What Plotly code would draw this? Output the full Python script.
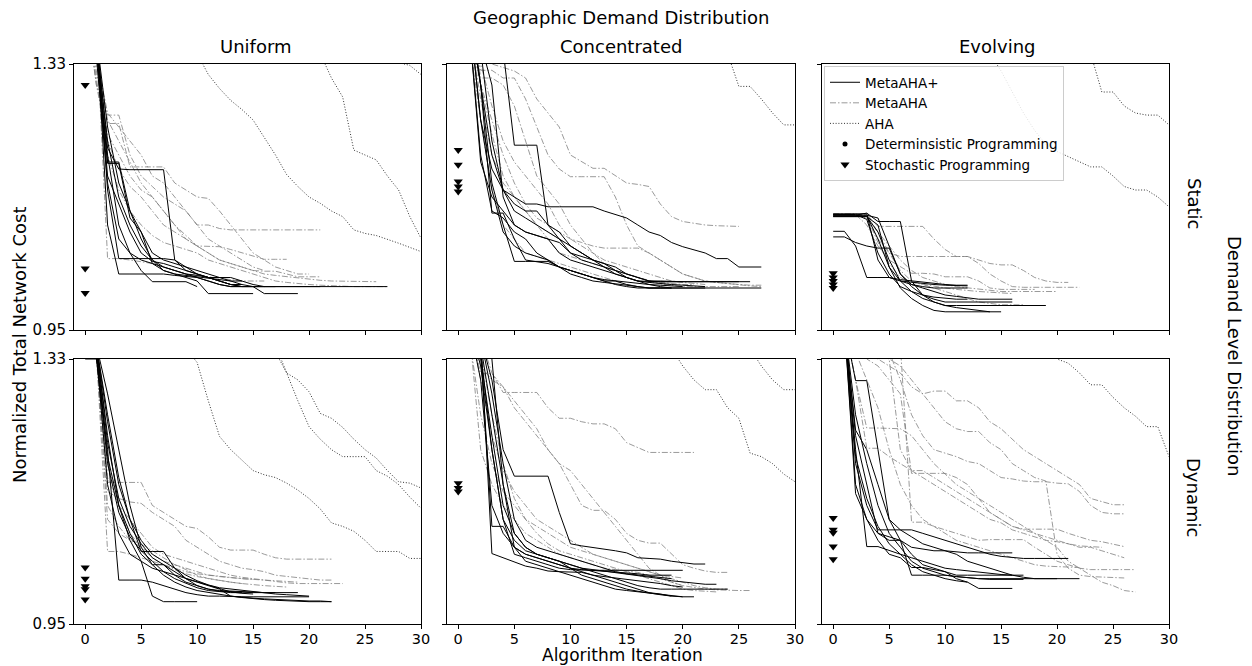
import plotly.graph_objects as go

# ---------------- DATA ----------------
# x positions are iterations 0,1,2,... ; AHA curves start at the given iteration
iter_ticks = [0, 5, 10, 15, 20, 25, 30]
cost_ticks = [0.95, 1.33]
col_titles = ["Uniform", "Concentrated", "Evolving"]
row_titles = ["Static", "Dynamic"]

# --- Uniform / Static ---
uni_sta_plus = [
    [1.42, 1.36, 1.19, 1.19, 1.12, 1.08, 1.05, 1.035, 1.03, 1.025, 1.02, 1.002, 1.002, 1.002, 1.002, 1.002],
    [1.42, 1.37, 1.21, 1.18, 1.179, 1.179, 1.179, 1.179, 1.05, 1.035, 1.03, 1.025, 1.02, 1.015, 1.012, 1.012, 1.012, 1.012],
    [1.42, 1.38, 1.15, 1.052, 1.052, 1.052, 1.052, 1.052, 1.05, 1.04, 1.03, 1.025, 1.02, 1.015, 1.012, 1.012, 1.012, 1.012, 1.012, 1.012, 1.012, 1.012, 1.012, 1.012, 1.012, 1.012, 1.012, 1.012],
    [1.42, 1.38, 1.10, 1.03, 1.03, 1.03, 1.03, 1.03, 1.028, 1.027, 1.025, 1.02, 1.015, 1.012, 1.012, 1.012, 1.002, 1.002, 1.002, 1.002],
    [1.42, 1.35, 1.20, 1.10, 1.06, 1.035, 1.019, 1.019, 1.019, 1.019, 1.012],
    [1.42, 1.36, 1.17, 1.13, 1.09, 1.06, 1.048, 1.045, 1.04, 1.035, 1.03, 1.025, 1.02, 1.015, 1.015],
    [1.42, 1.34, 1.16, 1.08, 1.06, 1.05, 1.045, 1.04, 1.035, 1.03, 1.028, 1.025, 1.025, 1.025, 1.02, 1.015, 1.012],
    [1.42, 1.36, 1.22, 1.14, 1.10, 1.07, 1.05, 1.04, 1.035, 1.03, 1.025, 1.02, 1.015, 1.012, 1.012],
    [1.42, 1.37, 1.24, 1.16, 1.12, 1.09, 1.06, 1.05, 1.045, 1.04, 1.035, 1.03, 1.025, 1.02, 1.015, 1.012, 1.012, 1.012, 1.012, 1.012, 1.012, 1.012],
    [1.42, 1.35, 1.188, 1.188, 1.11, 1.09, 1.045, 1.035, 1.03, 1.028, 1.026, 1.024, 1.022, 1.02, 1.02],
]
uni_sta_meta = [
    [1.42, 1.30, 1.257, 1.257, 1.20, 1.17, 1.155, 1.14, 1.13, 1.12, 1.10, 1.10, 1.095, 1.093, 1.093, 1.093, 1.093, 1.093, 1.093, 1.093, 1.093, 1.093],
    [1.42, 1.35, 1.245, 1.245, 1.183, 1.183, 1.183, 1.183, 1.16, 1.15, 1.14, 1.138, 1.12, 1.10, 1.08, 1.06, 1.05, 1.04, 1.035, 1.03, 1.03],
    [1.42, 1.38, 1.052, 1.052, 1.05, 1.048, 1.045, 1.04, 1.035, 1.03, 1.028, 1.026, 1.024, 1.022, 1.02, 1.02, 1.02],
    [1.42, 1.32, 1.23, 1.20, 1.17, 1.15, 1.14, 1.12, 1.10, 1.08, 1.07, 1.069, 1.069, 1.065, 1.06, 1.055, 1.051, 1.051, 1.051],
    [1.42, 1.30, 1.22, 1.18, 1.155, 1.14, 1.12, 1.10, 1.09, 1.08, 1.07, 1.06, 1.05, 1.045, 1.04, 1.035, 1.034, 1.034, 1.03, 1.026, 1.026, 1.026],
    [1.42, 1.33, 1.25, 1.22, 1.19, 1.16, 1.14, 1.12, 1.10, 1.085, 1.07, 1.06, 1.05, 1.045, 1.04, 1.035, 1.03, 1.028, 1.026, 1.024, 1.022, 1.021, 1.02, 1.02, 1.019, 1.019, 1.019],
    [1.42, 1.31, 1.20, 1.15, 1.12, 1.10, 1.085, 1.075, 1.07, 1.065, 1.06, 1.05, 1.045, 1.04, 1.035, 1.03, 1.025, 1.02, 1.018, 1.016, 1.015, 1.014, 1.013, 1.012, 1.012, 1.012, 1.012, 1.012],
    [1.42, 1.34, 1.26, 1.24, 1.22, 1.20, 1.17, 1.16, 1.14, 1.12, 1.10, 1.08, 1.07, 1.06, 1.05, 1.04, 1.035],
]
uni_sta_aha_start = [10, 21, 28]
uni_sta_aha = [
    [1.345, 1.315, 1.295, 1.278, 1.265, 1.25, 1.225, 1.20, 1.172, 1.155, 1.14, 1.131, 1.12, 1.112, 1.093, 1.088, 1.085, 1.08, 1.074, 1.068, 1.062],
    [1.345, 1.31, 1.283, 1.207, 1.20, 1.193, 1.17, 1.15, 1.112, 1.081],
    [1.332, 1.328, 1.315],
]
uni_sta_sp = [1.300, 1.038, 1.003]

# --- Concentrated / Static ---
con_sta_plus = [
    [1.45, 1.40, 1.25, 1.18, 1.15, 1.14, 1.13, 1.13, 1.126, 1.126, 1.126, 1.126, 1.126, 1.12, 1.115, 1.11, 1.10, 1.09, 1.085, 1.075, 1.069, 1.065, 1.06, 1.052, 1.052, 1.04, 1.04, 1.04],
    [1.45, 1.42, 1.40, 1.38, 1.35, 1.214, 1.214, 1.214, 1.10, 1.09, 1.07, 1.06, 1.05, 1.045, 1.04, 1.03, 1.025, 1.02, 1.019, 1.019, 1.019, 1.019, 1.019, 1.019, 1.019, 1.019, 1.019],
    [1.45, 1.38, 1.20, 1.12, 1.11, 1.09, 1.08, 1.06, 1.05, 1.04, 1.035, 1.03, 1.025, 1.02, 1.015, 1.012, 1.01, 1.01, 1.01, 1.01, 1.01, 1.01, 1.01, 1.01, 1.01, 1.01, 1.01, 1.01],
    [1.45, 1.40, 1.30, 1.117, 1.117, 1.08, 1.05, 1.048, 1.045, 1.04, 1.035, 1.03, 1.025, 1.02, 1.02, 1.015, 1.012, 1.01, 1.01, 1.01, 1.01, 1.01, 1.01],
    [1.45, 1.42, 1.30, 1.16, 1.10, 1.048, 1.048, 1.048, 1.048, 1.04, 1.035, 1.03, 1.025, 1.022, 1.02, 1.018, 1.016, 1.015, 1.014, 1.013, 1.012],
    [1.45, 1.41, 1.35, 1.22, 1.15, 1.12, 1.11, 1.10, 1.09, 1.08, 1.06, 1.05, 1.045, 1.04, 1.035, 1.03, 1.025, 1.02, 1.02, 1.019, 1.019, 1.019, 1.019, 1.019, 1.019, 1.019],
    [1.45, 1.40, 1.30, 1.20, 1.15, 1.13, 1.12, 1.12, 1.10, 1.08, 1.07, 1.06, 1.05, 1.04, 1.03, 1.025, 1.02, 1.015, 1.012, 1.01],
    [1.45, 1.38, 1.19, 1.14, 1.12, 1.10, 1.09, 1.085, 1.08, 1.075, 1.06, 1.055, 1.05, 1.045, 1.035, 1.025, 1.02, 1.019, 1.019, 1.019, 1.019],
    [1.45, 1.40, 1.25, 1.15, 1.09, 1.07, 1.06, 1.055, 1.05, 1.04, 1.03, 1.025, 1.02, 1.018, 1.016, 1.014, 1.012, 1.01, 1.01, 1.01],
    [1.45, 1.42, 1.36, 1.30, 1.14, 1.10, 1.09, 1.085, 1.08, 1.06, 1.05, 1.045, 1.04, 1.035, 1.03, 1.025, 1.02, 1.018, 1.016, 1.015, 1.014, 1.013, 1.012],
]
con_sta_meta = [
    [1.45, 1.40, 1.35, 1.33, 1.325, 1.32, 1.31, 1.28, 1.26, 1.24, 1.20, 1.19, 1.181, 1.181, 1.17, 1.16, 1.158, 1.155, 1.13, 1.112, 1.105, 1.102, 1.10, 1.099, 1.098, 1.098],
    [1.45, 1.40, 1.321, 1.321, 1.31, 1.31, 1.28, 1.24, 1.20, 1.18, 1.169, 1.169, 1.169, 1.169, 1.14, 1.10, 1.07, 1.06, 1.05, 1.04, 1.03, 1.025, 1.02, 1.018, 1.016, 1.015, 1.014, 1.014],
    [1.45, 1.38, 1.30, 1.25, 1.20, 1.16, 1.13, 1.11, 1.10, 1.09, 1.08, 1.075, 1.07, 1.067, 1.067, 1.067, 1.067, 1.06, 1.05, 1.04, 1.03, 1.025, 1.02, 1.018, 1.016, 1.014, 1.013, 1.012],
    [1.45, 1.36, 1.25, 1.15, 1.10, 1.08, 1.06, 1.055, 1.05, 1.045, 1.04, 1.035, 1.03, 1.025, 1.02, 1.015, 1.012],
    [1.45, 1.42, 1.31, 1.31, 1.30, 1.27, 1.22, 1.17, 1.15, 1.13, 1.10, 1.08, 1.06, 1.045, 1.035, 1.025, 1.02, 1.018, 1.016, 1.015],
    [1.45, 1.38, 1.28, 1.20, 1.16, 1.14, 1.12, 1.10, 1.08, 1.06, 1.055, 1.05, 1.045, 1.04, 1.035, 1.03, 1.025, 1.02, 1.018, 1.016, 1.015, 1.015],
    [1.45, 1.40, 1.33, 1.27, 1.22, 1.19, 1.17, 1.15, 1.13, 1.10, 1.08, 1.07, 1.06, 1.05, 1.045, 1.04, 1.035, 1.03, 1.025, 1.02, 1.018, 1.016, 1.015],
    [1.45, 1.39, 1.30, 1.23, 1.17, 1.14, 1.12, 1.10, 1.09, 1.08, 1.07, 1.06, 1.05, 1.04, 1.035, 1.03, 1.025, 1.02, 1.016, 1.014, 1.012, 1.012, 1.012, 1.012, 1.012, 1.012],
]
con_sta_aha_start = [24]
con_sta_aha = [
    [1.345, 1.298, 1.298, 1.28, 1.26, 1.243, 1.243],
]
con_sta_sp = [1.207, 1.186, 1.162, 1.155, 1.148]

# --- Evolving / Static ---
evo_sta_plus = [
    [1.116, 1.116, 1.116, 1.116, 1.05, 1.025, 1.022, 1.020, 1.018, 1.016, 1.015, 1.014, 1.014],
    [1.112, 1.112, 1.112, 1.112, 1.10, 1.04, 1.02, 1.015, 1.012, 1.01, 1.01, 1.01, 1.01],
    [1.091, 1.091, 1.07, 1.025, 1.025, 1.025, 1.02, 1.018, 1.016, 1.015, 1.014, 1.013, 1.013],
    [1.083, 1.083, 1.075, 1.07, 1.067, 1.067, 1.03, 1.015, 1.01, 1.005, 1.0, 0.998, 0.996, 0.994, 0.994, 0.994, 0.994],
    [1.114, 1.114, 1.114, 1.117, 1.105, 1.105, 1.105, 1.02, 1.0, 0.99, 0.985, 0.985, 0.985, 0.985, 0.985, 0.985, 0.985, 0.985, 0.985, 0.985],
    [1.113, 1.113, 1.113, 1.113, 1.08, 1.04, 1.01, 0.995, 0.985, 0.978, 0.976, 0.976, 0.976, 0.976, 0.976, 0.976],
    [1.115, 1.115, 1.115, 1.108, 1.06, 1.03, 1.012, 1.005, 1.0, 0.997, 0.995, 0.994, 0.994],
    [1.112, 1.112, 1.112, 1.112, 1.09, 1.05, 1.02, 1.005, 0.995, 0.99, 0.985, 0.982, 0.98, 0.978, 0.976],
    [1.114, 1.114, 1.114, 1.114, 1.11, 1.07, 1.03, 1.012, 1.0, 0.994, 0.99, 0.99, 0.99, 0.99, 0.99, 0.99, 0.99],
]
evo_sta_meta = [
    [1.115, 1.115, 1.115, 1.115, 1.098, 1.098, 1.098, 1.098, 1.098, 1.08, 1.065, 1.055, 1.055, 1.05, 1.045, 1.043, 1.043, 1.035, 1.025, 1.02, 1.018, 1.018],
    [1.115, 1.115, 1.115, 1.11, 1.08, 1.06, 1.055, 1.055, 1.055, 1.055, 1.055, 1.055, 1.055, 1.045, 1.03, 1.02, 1.012, 1.011, 1.011, 1.011, 1.011, 1.011, 1.011],
    [1.115, 1.115, 1.115, 1.10, 1.07, 1.05, 1.04, 1.031, 1.031, 1.03, 1.026, 1.026, 1.026, 1.02, 1.01, 1.008, 1.008, 1.008, 1.008],
    [1.115, 1.115, 1.115, 1.113, 1.09, 1.06, 1.035, 1.02, 1.015, 1.01, 1.005, 1.0, 0.995, 0.99, 0.988, 0.986, 0.986, 0.986],
    [1.115, 1.115, 1.115, 1.112, 1.075, 1.045, 1.025, 1.018, 1.015, 1.012, 1.01, 1.008, 1.006, 1.005, 1.004, 1.003, 1.002],
    [1.116, 1.116, 1.116, 1.11, 1.09, 1.07, 1.05, 1.035, 1.025, 1.02, 1.015, 1.012, 1.01, 1.008, 1.006, 1.005, 1.005, 1.005, 1.005, 1.005, 1.005],
]
evo_sta_aha_start = [14, 23]
evo_sta_aha = [
    [1.345, 1.32, 1.29, 1.26, 1.235, 1.215, 1.205, 1.198, 1.19, 1.183, 1.183, 1.17, 1.155, 1.15, 1.15, 1.14, 1.126],
    [1.345, 1.29, 1.29, 1.27, 1.26, 1.257, 1.257, 1.243],
]
evo_sta_sp = [1.031, 1.025, 1.020, 1.015, 1.010]

# --- Uniform / Dynamic ---
uni_dyn_plus = [
    [1.33, 1.33, 1.20, 1.013, 1.013, 1.013, 1.01, 1.005, 1.0, 0.995, 0.992, 0.99, 0.99, 0.989, 0.989, 0.989, 0.989, 0.989, 0.989, 0.989, 0.989],
    [1.35, 1.34, 1.15, 1.08, 1.05, 1.04, 0.99, 0.982, 0.982, 0.982, 0.982],
    [1.36, 1.35, 1.22, 1.12, 1.08, 1.05, 1.035, 1.02, 1.01, 1.003, 0.998, 0.995, 0.993, 0.99, 0.988, 0.986, 0.985, 0.984, 0.983, 0.982, 0.982, 0.982, 0.982],
    [1.36, 1.35, 1.25, 1.16, 1.10, 1.054, 1.054, 1.054, 1.03, 1.015, 1.005, 1.0, 0.997, 0.996, 0.995, 0.995, 0.995, 0.995, 0.995, 0.995],
    [1.36, 1.35, 1.28, 1.20, 1.12, 1.06, 1.035, 1.035, 1.02, 1.01, 1.005, 1.0, 0.998, 0.997, 0.996, 0.995, 0.995, 0.995],
    [1.36, 1.34, 1.18, 1.11, 1.075, 1.055, 1.04, 1.025, 1.015, 1.008, 1.002, 0.998, 0.996, 0.995, 0.995],
    [1.36, 1.35, 1.21, 1.13, 1.09, 1.065, 1.045, 1.035, 1.025, 1.015, 1.01, 1.005, 1.0, 0.99, 0.988, 0.987, 0.986, 0.985, 0.984, 0.983, 0.983, 0.983, 0.982],
    [1.36, 1.35, 1.24, 1.15, 1.10, 1.07, 1.05, 1.04, 1.03, 1.02, 1.012, 1.006, 1.002, 1.0, 0.998, 0.996, 0.994, 0.993, 0.992, 0.991, 0.99],
    [1.36, 1.35, 1.19, 1.12, 1.07, 1.04, 1.03, 1.025, 1.02, 1.015, 1.01, 1.005, 1.0, 0.996, 0.994, 0.993],
]
uni_dyn_meta = [
    [1.36, 1.35, 1.153, 1.153, 1.153, 1.153, 1.12, 1.11, 1.10, 1.09, 1.087, 1.075, 1.06, 1.056, 1.056, 1.056, 1.05, 1.045, 1.043, 1.043, 1.043, 1.043, 1.043],
    [1.36, 1.34, 1.054, 1.054, 1.05, 1.045, 1.04, 1.035, 1.03, 1.025, 1.022, 1.02, 1.018, 1.016, 1.015, 1.014],
    [1.36, 1.35, 1.14, 1.13, 1.125, 1.123, 1.11, 1.10, 1.09, 1.07, 1.06, 1.05, 1.04, 1.035, 1.03, 1.028, 1.025, 1.02, 1.018, 1.016, 1.014, 1.013, 1.013],
    [1.36, 1.33, 1.16, 1.12, 1.10, 1.08, 1.06, 1.05, 1.045, 1.04, 1.035, 1.03, 1.025, 1.02, 1.017, 1.015, 1.012, 1.01, 1.009, 1.008, 1.008, 1.008, 1.008, 1.008],
    [1.36, 1.34, 1.12, 1.09, 1.07, 1.06, 1.05, 1.04, 1.035, 1.03, 1.025, 1.02, 1.018, 1.016, 1.015, 1.014, 1.013, 1.012, 1.011, 1.01],
    [1.36, 1.35, 1.18, 1.12, 1.08, 1.06, 1.045, 1.035, 1.028, 1.022, 1.018, 1.015, 1.012, 1.01, 1.008, 1.006, 1.005, 1.004, 1.003],
    [1.36, 1.34, 1.10, 1.08, 1.07, 1.065, 1.055, 1.045, 1.035, 1.028, 1.02, 1.015, 1.012, 1.01, 1.008],
]
uni_dyn_aha_start = [9, 17, 17]
uni_dyn_aha = [
    [1.345, 1.325, 1.27, 1.219, 1.20, 1.185, 1.17, 1.164, 1.16, 1.152, 1.142, 1.13, 1.115, 1.095, 1.09, 1.083, 1.07, 1.054, 1.054, 1.054, 1.044, 1.044],
    [1.35, 1.31, 1.30, 1.283, 1.252, 1.245, 1.232, 1.215, 1.20, 1.188, 1.17, 1.154, 1.152, 1.145],
    [1.34, 1.31, 1.27, 1.233, 1.215, 1.20, 1.19, 1.19, 1.19, 1.17, 1.162, 1.15, 1.132, 1.116],
]
uni_dyn_sp = [1.031, 1.015, 1.004, 1.000, 0.985]

# --- Concentrated / Dynamic ---
con_dyn_plus = [
    [1.40, 1.38, 1.36, 1.051, 1.045, 1.04, 1.033, 1.03, 1.026, 1.025, 1.024, 1.024, 1.02, 1.018, 1.016, 1.015, 1.012, 1.01, 1.008, 1.005, 1.003],
    [1.40, 1.38, 1.34, 1.09, 1.09, 1.06, 1.04, 1.035, 1.03, 1.025, 1.02, 1.015, 1.01, 1.005, 1.0, 0.998, 0.996, 0.994, 0.992, 0.99, 0.989, 0.989],
    [1.40, 1.38, 1.36, 1.30, 1.20, 1.162, 1.162, 1.162, 1.162, 1.11, 1.065, 1.062, 1.06, 1.058, 1.055, 1.052, 1.045, 1.044, 1.043, 1.04, 1.038, 1.036, 1.036],
    [1.40, 1.38, 1.30, 1.12, 1.08, 1.06, 1.05, 1.045, 1.04, 1.035, 1.03, 1.028, 1.027, 1.026, 1.025, 1.024, 1.022, 1.02, 1.02, 1.02],
    [1.40, 1.38, 1.35, 1.25, 1.15, 1.08, 1.06, 1.05, 1.045, 1.04, 1.035, 1.03, 1.025, 1.02, 1.015, 1.01, 1.005, 1.002, 1.0, 1.0, 1.0, 1.0, 1.0, 1.0, 1.0],
    [1.40, 1.38, 1.32, 1.20, 1.10, 1.07, 1.055, 1.05, 1.045, 1.04, 1.035, 1.03, 1.028, 1.026, 1.024, 1.022, 1.02, 1.018, 1.015, 1.012, 1.01, 1.008, 1.007, 1.007],
    [1.40, 1.38, 1.33, 1.22, 1.12, 1.08, 1.06, 1.05, 1.045, 1.04, 1.03, 1.02, 1.015, 1.01, 1.005, 1.0, 0.997, 0.994, 0.992, 0.99, 0.989],
    [1.40, 1.38, 1.34, 1.20, 1.10, 1.05, 1.045, 1.04, 1.035, 1.03, 1.028, 1.027, 1.027, 1.027, 1.027, 1.027, 1.027, 1.027, 1.027, 1.027, 1.027],
    [1.40, 1.38, 1.36, 1.28, 1.18, 1.10, 1.07, 1.06, 1.055, 1.05, 1.045, 1.04, 1.035, 1.03, 1.025, 1.022, 1.02, 1.018, 1.016, 1.015],
    [1.40, 1.38, 1.35, 1.33, 1.15, 1.06, 1.05, 1.045, 1.04, 1.035, 1.03, 1.025, 1.02, 1.015, 1.01, 1.005, 1.0, 0.995, 0.993, 0.99],
]
con_dyn_meta = [
    [1.40, 1.38, 1.36, 1.31, 1.282, 1.282, 1.282, 1.282, 1.26, 1.245, 1.245, 1.24, 1.237, 1.237, 1.23, 1.21, 1.203, 1.196, 1.196, 1.196, 1.196, 1.196],
    [1.40, 1.38, 1.309, 1.309, 1.29, 1.27, 1.25, 1.23, 1.20, 1.18, 1.15, 1.12, 1.113, 1.113, 1.10, 1.08, 1.07, 1.066, 1.066, 1.05, 1.035, 1.03, 1.026, 1.024, 1.024],
    [1.40, 1.38, 1.32, 1.30, 1.29, 1.26, 1.24, 1.22, 1.20, 1.18, 1.17, 1.15, 1.13, 1.11, 1.09, 1.07, 1.05, 1.03, 1.02, 1.01, 1.005, 1.002, 1.0, 0.999, 0.998, 0.998, 0.998],
    [1.40, 1.36, 1.25, 1.18, 1.14, 1.12, 1.10, 1.09, 1.08, 1.07, 1.06, 1.055, 1.05, 1.045, 1.04, 1.035, 1.03, 1.025, 1.02, 1.015, 1.01, 1.005, 1.002, 1.0, 1.0],
    [1.40, 1.37, 1.20, 1.15, 1.12, 1.10, 1.08, 1.07, 1.06, 1.05, 1.045, 1.04, 1.035, 1.03, 1.028, 1.026, 1.024, 1.02, 1.015, 1.01, 1.005],
    [1.40, 1.38, 1.30, 1.22, 1.17, 1.14, 1.12, 1.10, 1.09, 1.08, 1.07, 1.06, 1.05, 1.045, 1.04, 1.035, 1.03, 1.025, 1.02, 1.018, 1.016],
    [1.40, 1.38, 1.34, 1.25, 1.18, 1.13, 1.10, 1.08, 1.065, 1.055, 1.05, 1.045, 1.04, 1.035, 1.03, 1.025, 1.02, 1.015, 1.01, 1.005, 1.0, 0.998, 0.997, 0.996],
]
con_dyn_aha_start = [19, 26]
con_dyn_aha = [
    [1.345, 1.32, 1.30, 1.286, 1.286, 1.26, 1.245, 1.195, 1.19, 1.18, 1.165, 1.154],
    [1.345, 1.32, 1.30, 1.286, 1.286],
]
con_dyn_sp = [1.152, 1.145, 1.140]

# --- Evolving / Dynamic ---
evo_dyn_plus = [
    [1.40, 1.38, 1.137, 1.10, 1.08, 1.075, 1.07, 1.06, 1.058, 1.055, 1.055, 1.053, 1.052, 1.052, 1.052, 1.052, 1.052],
    [1.40, 1.38, 1.299, 1.299, 1.20, 1.10, 1.085, 1.085, 1.08, 1.075, 1.07, 1.065, 1.06, 1.055, 1.05, 1.047, 1.045, 1.044, 1.044, 1.044, 1.044, 1.044],
    [1.40, 1.38, 1.20, 1.061, 1.061, 1.055, 1.05, 1.045, 1.04, 1.035, 1.03, 1.028, 1.026, 1.024, 1.022, 1.021, 1.02, 1.02],
    [1.40, 1.38, 1.228, 1.20, 1.15, 1.10, 1.07, 1.02, 1.02, 1.02, 1.02, 1.018, 1.016, 1.015, 1.015, 1.015, 1.015, 1.015, 1.015, 1.015, 1.015, 1.015, 1.015],
    [1.40, 1.38, 1.18, 1.12, 1.085, 1.085, 1.085, 1.075, 1.065, 1.06, 1.055, 1.05, 1.04, 1.035, 1.03, 1.025, 1.02, 1.017, 1.015, 1.015, 1.015],
    [1.40, 1.38, 1.15, 1.10, 1.07, 1.05, 1.045, 1.031, 1.031, 1.028, 1.025, 1.015, 1.01, 1.001, 1.001, 1.001, 1.001],
    [1.40, 1.38, 1.22, 1.15, 1.08, 1.07, 1.07, 1.05, 1.035, 1.03, 1.025, 1.02, 1.02, 1.02, 1.02, 1.02, 1.02],
    [1.40, 1.38, 1.25, 1.18, 1.12, 1.08, 1.06, 1.04, 1.03, 1.025, 1.02, 1.018, 1.016, 1.015, 1.014, 1.014, 1.014, 1.014],
    [1.40, 1.38, 1.19, 1.13, 1.09, 1.065, 1.05, 1.035, 1.025, 1.02, 1.015, 1.012, 1.01],
]
evo_dyn_meta = [
    [1.40, 1.38, 1.36, 1.34, 1.33, 1.32, 1.31, 1.29, 1.28, 1.284, 1.284, 1.27, 1.27, 1.26, 1.24, 1.23, 1.215, 1.20, 1.19, 1.18, 1.17, 1.16, 1.15, 1.13, 1.125, 1.121, 1.121],
    [1.40, 1.38, 1.36, 1.35, 1.35, 1.34, 1.30, 1.25, 1.22, 1.20, 1.195, 1.19, 1.183, 1.18, 1.17, 1.16, 1.158, 1.155, 1.154, 1.154, 1.152, 1.151, 1.14, 1.12, 1.11, 1.108, 1.108],
    [1.40, 1.38, 1.35, 1.33, 1.32, 1.30, 1.28, 1.166, 1.166, 1.166, 1.166, 1.16, 1.15, 1.13, 1.11, 1.10, 1.09, 1.086, 1.086, 1.086, 1.086, 1.08, 1.075, 1.07, 1.068, 1.065, 1.061],
    [1.40, 1.38, 1.36, 1.35, 1.35, 1.35, 1.35, 1.096, 1.096, 1.09, 1.085, 1.08, 1.075, 1.07, 1.071, 1.071, 1.071, 1.071, 1.06, 1.05, 1.04, 1.035, 1.03, 1.028, 1.028, 1.028, 1.028, 1.028],
    [1.40, 1.38, 1.36, 1.35, 1.34, 1.33, 1.32, 1.30, 1.28, 1.26, 1.24, 1.23, 1.226, 1.226, 1.21, 1.20, 1.18, 1.17, 1.16, 1.155, 1.05, 1.03, 1.02, 1.018, 1.017, 1.016, 1.016],
    [1.40, 1.38, 1.30, 1.231, 1.231, 1.231, 1.23, 1.22, 1.20, 1.18, 1.165, 1.15, 1.14, 1.13, 1.12, 1.11, 1.10, 1.09, 1.08, 1.07, 1.06, 1.04, 1.03, 1.02, 1.01, 1.005, 0.998, 0.996],
    [1.40, 1.38, 1.30, 1.202, 1.202, 1.19, 1.18, 1.17, 1.16, 1.15, 1.14, 1.13, 1.12, 1.11, 1.10, 1.095, 1.085, 1.08, 1.075, 1.07, 1.068, 1.065, 1.06, 1.06, 1.055, 1.05, 1.045],
    [1.40, 1.38, 1.34, 1.30, 1.26, 1.20, 1.15, 1.12, 1.10, 1.09, 1.08, 1.07, 1.065, 1.06, 1.055, 1.05, 1.045, 1.04, 1.035, 1.033, 1.032, 1.031, 1.031],
    [1.40, 1.38, 1.36, 1.35, 1.34, 1.33, 1.20, 1.17, 1.17, 1.16, 1.15, 1.14, 1.13, 1.12, 1.11, 1.10, 1.09, 1.085, 1.08, 1.075, 1.07, 1.065, 1.062, 1.061, 1.06],
]
evo_dyn_aha_start = [19]
evo_dyn_aha = [
    [1.345, 1.33, 1.324, 1.31, 1.293, 1.293, 1.275, 1.26, 1.248, 1.233, 1.233, 1.19],
]
evo_dyn_sp = [1.102, 1.085, 1.081, 1.061, 1.043]

# ---------------- FIGURE ----------------
W, H = 1252, 666
FONT = "DejaVu Sans"
PLUS_STYLE = dict(color="black", width=1)
META_STYLE = dict(color="rgba(120,120,120,0.75)", width=1, dash="6px,2px,1.5px,2px")
AHA_STYLE = dict(color="#333333", width=1, dash="1px,1.8px")

panels = [
    (0, 0, uni_sta_plus, uni_sta_meta, uni_sta_aha_start, uni_sta_aha, uni_sta_sp),
    (0, 1, con_sta_plus, con_sta_meta, con_sta_aha_start, con_sta_aha, con_sta_sp),
    (0, 2, evo_sta_plus, evo_sta_meta, evo_sta_aha_start, evo_sta_aha, evo_sta_sp),
    (1, 0, uni_dyn_plus, uni_dyn_meta, uni_dyn_aha_start, uni_dyn_aha, uni_dyn_sp),
    (1, 1, con_dyn_plus, con_dyn_meta, con_dyn_aha_start, con_dyn_aha, con_dyn_sp),
    (1, 2, evo_dyn_plus, evo_dyn_meta, evo_dyn_aha_start, evo_dyn_aha, evo_dyn_sp),
]

col_px = [(74, 421), (447, 795), (822, 1169)]
row_px = [(64, 330), (359, 624)]

fig = go.Figure()
layout_axes = {}
for idx, (r, c, plus, meta, aha_start, aha, sp) in enumerate(panels):
    n = idx + 1
    xa = "x" if n == 1 else f"x{n}"
    ya = "y" if n == 1 else f"y{n}"
    for vals in meta:
        fig.add_trace(go.Scatter(x=list(range(len(vals))), y=vals, mode="lines",
                                 line=META_STYLE, xaxis=xa, yaxis=ya, showlegend=False,
                                 hoverinfo="skip"))
    for s, vals in zip(aha_start, aha):
        fig.add_trace(go.Scatter(x=list(range(s, s + len(vals))), y=vals, mode="lines",
                                 line=AHA_STYLE, xaxis=xa, yaxis=ya, showlegend=False,
                                 hoverinfo="skip"))
    for vals in plus:
        fig.add_trace(go.Scatter(x=list(range(len(vals))), y=vals, mode="lines",
                                 line=PLUS_STYLE, xaxis=xa, yaxis=ya, showlegend=False,
                                 hoverinfo="skip"))
    fig.add_trace(go.Scatter(x=[0] * len(sp), y=sp, mode="markers",
                             marker=dict(symbol="triangle-down", size=8, color="black"),
                             xaxis=xa, yaxis=ya, showlegend=False, hoverinfo="skip"))

    x0, x1 = col_px[c]
    y0, y1 = row_px[r]
    common = dict(showline=True, mirror=True, linecolor="black", linewidth=1,
                  ticks="outside", ticklen=4, tickwidth=1, tickcolor="black",
                  showgrid=False, zeroline=False, automargin=False)
    layout_axes["xaxis" if n == 1 else f"xaxis{n}"] = dict(
        domain=[x0 / W, x1 / W], range=[-1, 30], tickvals=iter_ticks,
        showticklabels=(r == 1), anchor=ya, ticklabelstandoff=-2,
        tickfont=dict(family=FONT, size=14.5, color="black"), **common)
    layout_axes["yaxis" if n == 1 else f"yaxis{n}"] = dict(
        domain=[(H - y1) / H, (H - y0) / H], range=[0.95, 1.33], tickvals=cost_ticks,
        ticktext=["0.95", "1.33"], showticklabels=(c == 0), anchor=xa,
        tickfont=dict(family=FONT, size=15, color="black"), **common)

# legend entries
fig.add_trace(go.Scatter(x=[None], y=[None], mode="lines", name="MetaAHA+", line=PLUS_STYLE))
fig.add_trace(go.Scatter(x=[None], y=[None], mode="lines", name="MetaAHA", line=META_STYLE))
fig.add_trace(go.Scatter(x=[None], y=[None], mode="lines", name="AHA", line=AHA_STYLE))
fig.add_trace(go.Scatter(x=[None], y=[None], mode="markers", name="Determinsistic Programming",
                         marker=dict(symbol="circle", size=5, color="black")))
fig.add_trace(go.Scatter(x=[None], y=[None], mode="markers", name="Stochastic Programming",
                         marker=dict(symbol="triangle-down", size=8, color="black")))

annotations = []
def ann(text, px, py, size=18, angle=0, yanchor="middle"):
    annotations.append(dict(text=text, x=px / W, y=(H - py) / H, xref="paper", yref="paper",
                            showarrow=False, textangle=angle, xanchor="center", yanchor=yanchor,
                            borderpad=0, font=dict(family=FONT, size=size, color="black")))

ann("Geographic Demand Distribution", 621, 18)
for title, cx in zip(col_titles, [256, 621, 997]):
    ann(title, cx, 46)
ann("Static", 1194, 203, angle=90)
ann("Dynamic", 1194, 497, angle=90)
ann("Demand Level Distribution", 1234, 356, angle=90)
ann("Normalized Total Network Cost", 19, 345, angle=-90)
ann("Algorithm Iteration", 622, H, size=17, yanchor="bottom")

fig.update_layout(
    width=W, height=H, autosize=False, margin=dict(l=0, r=0, t=0, b=0, pad=0),
    paper_bgcolor="white", plot_bgcolor="white",
    font=dict(family=FONT, color="black"),
    annotations=annotations,
    legend=dict(x=824 / W, y=(H - 66) / H, xanchor="left", yanchor="top",
                bgcolor="rgba(255,255,255,0.85)", bordercolor="#cccccc", borderwidth=1,
                font=dict(family=FONT, size=13.5, color="black"), tracegroupgap=0,
                itemwidth=30),
    **layout_axes,
)

fig.write_html("out.html", config={"displayModeBar": False},
               post_script="document.body.style.margin='0';")
